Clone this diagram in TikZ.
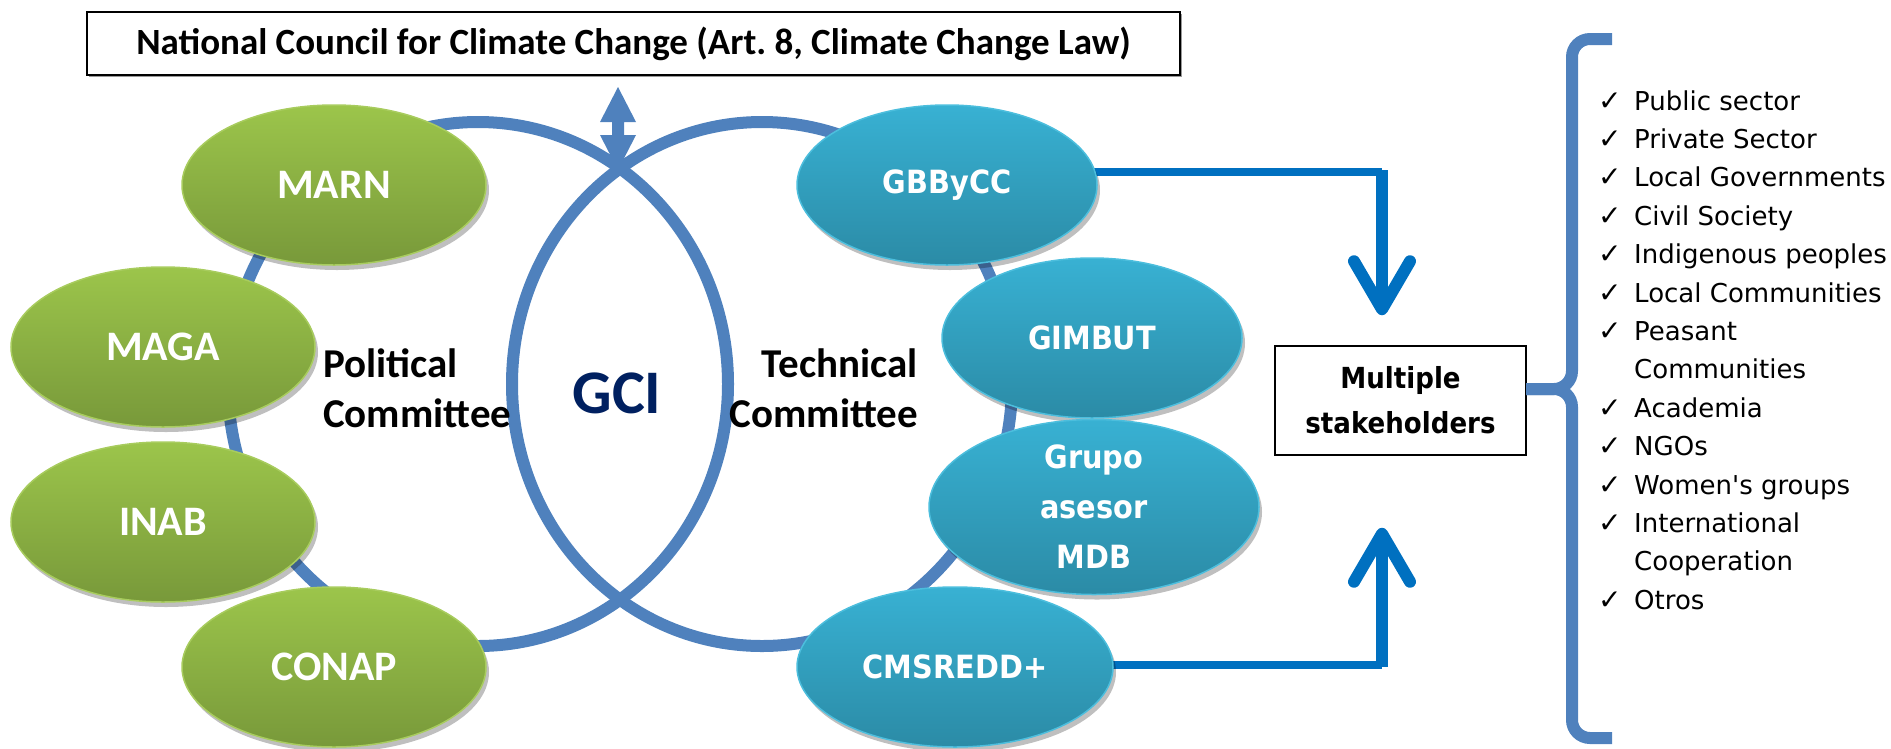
\documentclass[tikz,border=0pt]{standalone}
\usepackage{fontspec}
\setmainfont{Carlito}
\newfontfamily\tah[FakeStretch=0.9]{DejaVu Sans}
\newfontfamily\verd{DejaVu Sans}
\usetikzlibrary{shapes.geometric,shadows,arrows.meta,calc}
\pgfdeclarelayer{bg}
\pgfsetlayers{bg,main}
\frenchspacing
\definecolor{loopblue}{HTML}{4F81BD}
\definecolor{arrowblue}{HTML}{0070C0}
\definecolor{gtop}{HTML}{9CC54B}
\definecolor{gbot}{HTML}{78993A}
\definecolor{gedge}{HTML}{A8CC5E}
\definecolor{btop}{HTML}{38B1D3}
\definecolor{bbot}{HTML}{2B8BA6}
\definecolor{bedge}{HTML}{4CBEDD}
\definecolor{navy}{HTML}{002060}
\begin{document}
\begin{tikzpicture}[x=1pt,y=-1pt,
  ell/.style={ellipse, inner sep=0pt, line width=1.5pt,
    drop shadow={shadow xshift=3pt, shadow yshift=-5pt, opacity=0.25, fill=black},
    text=white},
  gell/.style={ell, draw=gedge, top color=gtop, bottom color=gbot,
    minimum width=304pt, minimum height=160pt,
    font=\fontsize{42}{50}\selectfont\bfseries},
  bell/.style={ell, draw=bedge, top color=btop, bottom color=bbot,
    minimum height=160pt, align=center,
    font=\tah\fontsize{32}{50}\selectfont\bfseries},
  loopring/.style={ellipse, draw=loopblue, line width=12pt, inner sep=0pt,
    minimum width=500pt, minimum height=524pt},
  conn/.style={draw=arrowblue, line width=8pt},
  bigarrow/.style={draw=arrowblue, line width=12pt,
    -{Straight Barb[length=48pt, width=56pt, round]}},
  brace/.style={draw=loopblue, line width=12pt, rounded corners=18pt},
  item/.style={anchor=base west, inner sep=0pt, font=\verd\fontsize{26}{31}\selectfont},
  chk/.style={anchor=base west, inner sep=0pt, font=\verd\fontsize{28}{30}\selectfont},
  label/.style={inner sep=0pt, font=\fontsize{41}{50}\selectfont\bfseries},
]
\useasboundingbox (0,0) rectangle (1891,748);

% title
\node[draw, line width=2pt, fill=white, minimum width=1093pt, minimum height=63pt, inner sep=0pt,
  drop shadow={shadow xshift=2pt, shadow yshift=-2pt, opacity=0.4, fill=black},
  font=\fontsize{37}{40}\selectfont\bfseries] (ncc) at (633.5,43.5)
  {National Council for Climate Change (Art. 8, Climate Change Law)};

% green ellipses
\node[gell] (marn) at (334,185) {MARN};
\node[gell] (maga) at (163,347) {MAGA};
\node[gell] (inab) at (163,522) {INAB};
\node[gell] (conap) at (334,667) {CONAP};

% blue ellipses
\node[bell, minimum width=300pt] (gbb) at (947,185) {GBByCC};
\node[bell, minimum width=300pt] (gim) at (1092,338) {GIMBUT};
\node[bell, minimum width=330pt] (gru) at (1094,507) {Grupo\\asesor\\MDB};
\node[bell, minimum width=316pt] (cms) at (955,667) {CMSREDD+};

% labels
\node[label, anchor=west, align=left] (pol) at (323,388) {Political\\Committee};
\node[label, anchor=east, align=right] (tec) at (918,388) {Technical\\Committee};
\node[inner sep=0pt, text=navy, font=\fontsize{62}{72}\selectfont\bfseries] (gci) at (617,393) {GCI};

% multiple stakeholders
\node[draw, line width=1.5pt, minimum width=251pt, minimum height=109pt, align=center,
  inner sep=0pt, font=\tah\fontsize{29}{45}\selectfont\bfseries] (ms) at (1400.5,400.5)
  {Multiple\\stakeholders};

% list
\foreach \i/\t in {0/Public sector,1/Private Sector,2/Local Governments,3/Civil Society,
  4/Indigenous peoples,5/Local Communities,6/Peasant,7/Communities,8/Academia,9/NGOs,
  10/Women's groups,11/International,12/Cooperation,13/Otros}
  \node[item] (l\i) at (1634,110+38.4*\i) {\t};
\foreach \i in {0,1,2,3,4,5,6,8,9,10,11,13}
  \node[chk] (k\i) at (1598,110+38.4*\i) {✓};

\begin{pgfonlayer}{bg}
  \node[loopring] (lloop) at (478,384) {};
  \node[loopring] (rloop) at (762,384) {};
  \coordinate (c1) at (1382,172);
  \coordinate (c2) at (1382,665);
  \draw[conn] (gbb.center |- c1) -- (c1);
  \draw[conn] (cms.center |- c2) -- (c2);
\end{pgfonlayer}

% arrows to stakeholders
\draw[bigarrow] ($(c1)+(0,-2)$) -- ($(ms.north)+(-18.5,-30)$);
\draw[bigarrow] ($(c2)+(0,2)$) -- ($(ms.south)+(-18.5,72)$);

% double arrow between council and GCI
\coordinate (da) at (618,87);
\fill[loopblue] (da) -- (636,122) -- (624,122) -- (624,135) -- (636,135) -- (618,170)
  -- (600,135) -- (612,135) -- (612,122) -- (600,122) -- cycle;

% brace
\coordinate (bt) at (1612,39);
\coordinate (bb) at (1612,738);
\coordinate (tip) at (1526,389);
\draw[brace] (bt) -- (1572,39) -- (1572,389) -- (tip);
\draw[brace] (tip) -- (1572,389) -- (1572,738) -- (bb);
\end{tikzpicture}
\end{document}
